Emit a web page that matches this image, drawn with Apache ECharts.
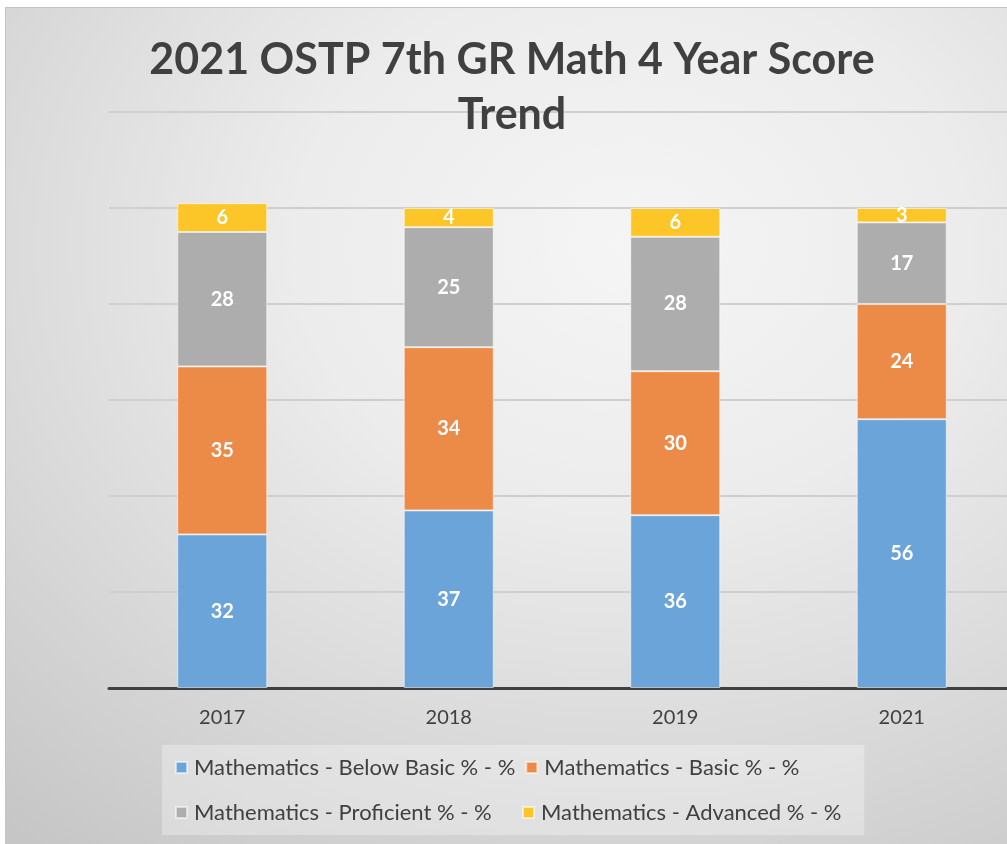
<!DOCTYPE html>
<html><head><meta charset="utf-8">
<script src="https://cdn.jsdelivr.net/npm/echarts@6/dist/echarts.min.js"></script>
<style>
html,body{margin:0;padding:0;background:#fff;width:1007px;height:844px;overflow:hidden;}
#bg{position:absolute;left:5px;top:7px;width:1010px;height:850px;border-left:1.5px solid #c4c4c4;border-top:1.5px solid #c4c4c4;
background:radial-gradient(ellipse 95% 90% at 62% 28%, #f5f5f5 0%, #ececec 35%, #d8d8d8 70%, #c6c6c6 100%);}
#c{position:absolute;left:0;top:0;width:1030px;height:844px;}
</style></head>
<body><div id="bg"></div><div id="c"></div>
<script>
const categories = ['2017','2018','2019','2021'];
const belowBasic = [32,37,36,56];
const basic = [35,34,30,24];
const proficient = [28,25,28,17];
const advanced = [6,4,6,3];
const seriesNames = ['Mathematics - Below Basic % - %','Mathematics - Basic % - %','Mathematics - Proficient % - %','Mathematics - Advanced % - %'];
const colors = ['#6ba4d8','#ec8b48','#adadad','#fdc628'];
const values = [belowBasic, basic, proficient, advanced];

const chart = echarts.init(document.getElementById('c'), null, {renderer:'canvas'});
const font = 'Lato, "Noto Sans", sans-serif';
chart.setOption({
  backgroundColor:'transparent',
  animation:false,
  graphic:[{type:'text',x:512,y:88,style:{text:'2021 OSTP 7th GR Math 4 Year Score\nTrend',x:0,y:0,textAlign:'center',textVerticalAlign:'middle',font:'bold 43px '+font,fill:'#404040',lineHeight:55},z:10}],
  grid:{left:109,top:112,width:906,height:576,containLabel:false},
  xAxis:{type:'category',data:categories,
    axisLine:{lineStyle:{color:'#404040',width:3}},
    axisTick:{show:false},
    axisLabel:{color:'#404040',fontSize:20,fontFamily:font,margin:20}},
  yAxis:{type:'value',min:0,max:120,interval:20,
    axisLabel:{show:false},axisLine:{show:false},axisTick:{show:false},
    splitLine:{lineStyle:{color:'#cfcfcf',width:2}}},
  legend:{left:162,top:745,width:700,padding:[5,2,5,13],itemGap:10,itemWidth:11,itemHeight:11,
    backgroundColor:'rgba(255,255,255,0.3)',
    icon:'rect',
    textStyle:{color:'#404040',fontSize:22,fontFamily:font,width:318,lineHeight:33,padding:[2,0,0,2]},
    data:seriesNames},
  series: seriesNames.map((n,i)=>({
    name:n,type:'bar',stack:'total',barWidth:90,data:values[i],
    itemStyle:{color:colors[i],borderColor:'rgba(255,255,255,0.55)',borderWidth:1},
    label:{show:true,position:'inside',color:'#fff',fontWeight:'bold',fontSize:20,fontFamily:font}
  }))
});
</script></body></html>
